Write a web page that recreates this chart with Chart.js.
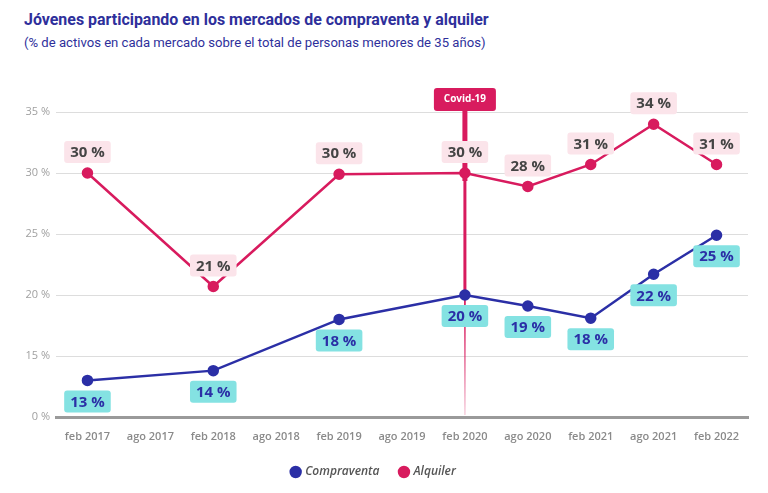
<!DOCTYPE html>
<html>
<head>
<meta charset="utf-8">
<script src="https://cdn.jsdelivr.net/npm/chart.js@4/dist/chart.umd.min.js"></script>
<style>
  html,body{margin:0;padding:0;background:#fff;}
  #wrap{position:relative;width:768px;height:493px;overflow:hidden;}
  #title{position:absolute;left:24px;top:10px;font-family:Roboto,sans-serif;font-weight:700;color:#2e2f9b;white-space:nowrap;}
  #subtitle{position:absolute;left:24px;top:35px;font-family:Roboto,sans-serif;font-weight:400;color:#2e2f9b;white-space:nowrap;}
  canvas{position:absolute;left:0;top:0;}
</style>
</head>
<body>
<div id="wrap">
  <div id="title">Jóvenes participando en los mercados de compraventa y alquiler</div>
  <div id="subtitle">(% de activos en cada mercado sobre el total de personas menores de 35 años)</div>
  <canvas id="c" width="768" height="493"></canvas>
</div>
<script>
const categories = ['feb 2017','ago 2017','feb 2018','ago 2018','feb 2019','ago 2019','feb 2020','ago 2020','feb 2021','ago 2021','feb 2022'];
const compraventa = [13.0, null, 13.8, null, 18.0, null, 20.0, 19.1, 18.1, 21.7, 24.9];
const alquiler    = [30.0, null, 20.7, null, 29.9, null, 30.0, 28.9, 30.7, 34.0, 30.7];
const compraventaLabels = [13, null, 14, null, 18, null, 20, 19, 18, 22, 25];
const alquilerLabels    = [30, null, 21, null, 30, null, 30, 28, 31, 34, 31];
const yTicks = [10, 15, 20, 25, 30, 35];
const yTickLabels = ['0 %', '15 %', '20 %', '25 %', '30 %', '35 %'];
const covidCategory = 'feb 2020';
const covidText = 'Covid-19';

// fit title widths
function fit(el, target){
  let s = 20; el.style.fontSize = s + 'px';
  const w = el.getBoundingClientRect().width;
  el.style.fontSize = (s * target / w) + 'px';
}
fit(document.getElementById('title'), 465);
fit(document.getElementById('subtitle'), 462);

const BLUE = '#2b2fa6', PINK = '#d81b5e';

function roundRect(ctx, x, y, w, h, r){
  ctx.beginPath();
  ctx.moveTo(x+r, y);
  ctx.lineTo(x+w-r, y); ctx.quadraticCurveTo(x+w, y, x+w, y+r);
  ctx.lineTo(x+w, y+h-r); ctx.quadraticCurveTo(x+w, y+h, x+w-r, y+h);
  ctx.lineTo(x+r, y+h); ctx.quadraticCurveTo(x, y+h, x, y+h-r);
  ctx.lineTo(x, y+r); ctx.quadraticCurveTo(x, y, x+r, y);
  ctx.closePath();
}

const covidPlugin = {
  id: 'covid',
  beforeDatasetsDraw(chart){
    const ctx = chart.ctx;
    const xs = chart.scales.x, ys = chart.scales.y;
    const idx = categories.indexOf(covidCategory);
    const x = xs.getPixelForValue(idx);
    const yTop = 110;
    const yA = ys.getPixelForValue(alquiler[idx]);
    const yC = ys.getPixelForValue(compraventa[idx]);
    const yB = chart.chartArea.bottom;
    ctx.save();
    ctx.strokeStyle = PINK;
    ctx.lineWidth = 5;
    ctx.beginPath(); ctx.moveTo(x, yTop); ctx.lineTo(x, yA + 8); ctx.stroke();
    ctx.lineWidth = 3;
    ctx.beginPath(); ctx.moveTo(x, yA + 8); ctx.lineTo(x, yC); ctx.stroke();
    const g = ctx.createLinearGradient(0, yC, 0, yB);
    g.addColorStop(0, 'rgba(216,27,94,1)');
    g.addColorStop(1, 'rgba(216,27,94,0.15)');
    ctx.strokeStyle = g;
    ctx.lineWidth = 1.8;
    ctx.beginPath(); ctx.moveTo(x, yC); ctx.lineTo(x, yB - 2); ctx.stroke();
    // box
    ctx.fillStyle = PINK;
    roundRect(ctx, x - 31, 88, 62, 23, 3);
    ctx.fill();
    ctx.fillStyle = '#fff';
    ctx.font = '700 10px "Open Sans", sans-serif';
    ctx.textAlign = 'center'; ctx.textBaseline = 'middle';
    ctx.fillText(covidText, x, 99.5);
    ctx.restore();
  }
};

const labelPlugin = {
  id: 'vlabels',
  afterDatasetsDraw(chart){
    const ctx = chart.ctx;
    ctx.save();
    ctx.font = '700 15px "Open Sans", sans-serif';
    ctx.textAlign = 'center'; ctx.textBaseline = 'middle';
    chart.data.datasets.forEach((ds, di) => {
      const meta = chart.getDatasetMeta(di);
      const labels = ds.valueLabels;
      meta.data.forEach((pt, i) => {
        if (ds.data[i] == null) return;
        const txt = labels[i] + ' %';
        const w = ctx.measureText(txt).width + 12;
        const h = 22;
        const cy = pt.y + (ds.labelAbove ? -21 : 21);
        ctx.fillStyle = ds.labelBg;
        roundRect(ctx, pt.x - w/2, cy - h/2, w, h, 3);
        ctx.fill();
        ctx.fillStyle = ds.labelColor;
        ctx.fillText(txt, pt.x, cy + 1);
      });
    });
    ctx.restore();
  }
};

new Chart(document.getElementById('c'), {
  type: 'line',
  data: {
    labels: categories,
    datasets: [
      {
        label: 'Compraventa', data: compraventa, valueLabels: compraventaLabels,
        borderColor: BLUE, backgroundColor: BLUE, pointBackgroundColor: BLUE, pointBorderColor: BLUE,
        borderWidth: 2.5, pointRadius: 4.5, spanGaps: true, labelAbove: false,
        labelBg: '#84e2e2', labelColor: BLUE
      },
      {
        label: 'Alquiler', data: alquiler, valueLabels: alquilerLabels,
        borderColor: PINK, backgroundColor: PINK, pointBackgroundColor: PINK, pointBorderColor: PINK,
        borderWidth: 2.5, pointRadius: 4.5, spanGaps: true, labelAbove: true,
        labelBg: '#fbe4ea', labelColor: '#444'
      }
    ]
  },
  options: {
    responsive: false,
    animation: false,
    layout: { padding: { top: 112, right: 20, left: 0, bottom: 5 } },
    plugins: {
      title: { display: false },
      tooltip: { enabled: false },
      legend: {
        position: 'bottom',
        labels: {
          usePointStyle: true, pointStyle: 'circle', boxWidth: 7, boxHeight: 7,
          padding: 21,
          color: '#555',
          font: { family: '"Open Sans", sans-serif', size: 12, style: 'italic', weight: '600' }
        }
      }
    },
    scales: {
      x: {
        offset: true,
        grid: { display: false, drawTicks: false },
        border: { display: true, color: '#9a9a9a', width: 3 },
        ticks: { color: '#8a8a8a', padding: 13, maxRotation: 0, autoSkip: false,
                 font: { family: '"Open Sans", sans-serif', size: 11, weight: '600' } },
        afterFit(s){ s.height = 28; }
      },
      y: {
        min: 10, max: 35,
        afterBuildTicks(s){ s.ticks = yTicks.map(v => ({ value: v })); },
        grid: { color: '#dddddd', lineWidth: 1, drawTicks: false },
        border: { display: false },
        ticks: {
          color: '#a0a0a0', padding: 6,
          font: { family: '"Open Sans", sans-serif', size: 11 },
          callback(v){ const i = yTicks.indexOf(v); return i >= 0 ? yTickLabels[i] : ''; }
        },
        afterFit(s){ s.width = 56; }
      }
    }
  },
  plugins: [covidPlugin, labelPlugin]
});
</script>
</body>
</html>
